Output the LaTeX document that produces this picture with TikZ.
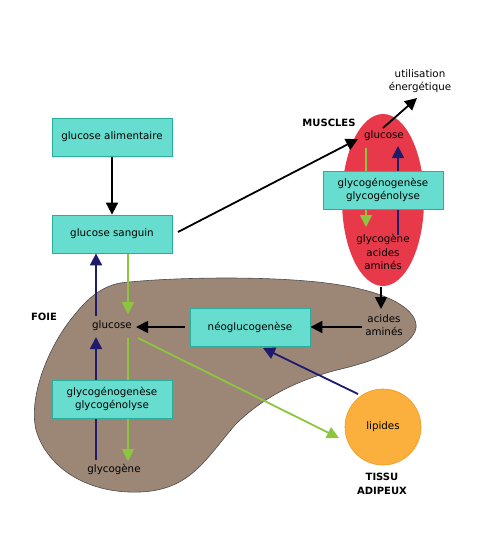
\documentclass[tikz,border=0pt]{standalone}
\usepackage{fontspec}
\setmainfont{DejaVu Sans}
\usetikzlibrary{arrows.meta}
\definecolor{turq}{HTML}{66DDCF}
\definecolor{turqb}{HTML}{2AAE9C}
\definecolor{liver}{HTML}{9C8777}
\definecolor{muscle}{HTML}{E8394A}
\definecolor{fat}{HTML}{FBAF3C}
\definecolor{fatb}{HTML}{F29A1E}
\definecolor{navy}{HTML}{1F1B6B}
\definecolor{lgreen}{HTML}{8CC63F}
\pgfdeclarelayer{shapes}
\pgfdeclarelayer{arrows}
\pgfsetlayers{shapes,arrows,main}
\tikzset{
  box/.style={draw=turqb, fill=turq, line width=0.8pt, minimum width=120pt, minimum height=38pt, inner sep=0pt, align=center, font=\fontsize{10.3}{13.5}\selectfont},
  lbl/.style={inner sep=0pt, align=center, font=\fontsize{10.3}{13.5}\selectfont},
  bold/.style={inner sep=0pt, align=center, font=\fontsize{10}{14}\selectfont\bfseries},
  arr/.style={line width=1.8pt, -{Triangle[length=12pt,width=12pt]}},
  blk/.style={arr, black},
  blu/.style={arr, navy},
  grn/.style={arr, lgreen},
}
\begin{document}
\begin{tikzpicture}[x=1pt,y=-1pt]
\useasboundingbox (0,0) rectangle (500,550);
\begin{pgfonlayer}{shapes}
\fill[white] (0,0) rectangle (500,550);
% liver
\filldraw[fill=liver, draw=black!70, line width=0.6pt]
  (120,283) .. controls (170,277) and (280,275) .. (340,285)
  .. controls (390,293) and (418,310) .. (416,328)
  .. controls (413,345) and (380,360) .. (337,370)
  .. controls (290,382) and (258,402) .. (235,425)
  .. controls (205,460) and (190,490) .. (140,492)
  .. controls (90,494) and (48,470) .. (36,430)
  .. controls (28,395) and (50,345) .. (72,318)
  .. controls (86,300) and (100,287) .. (120,283) -- cycle;
% muscle
\fill[muscle] (383,200) ellipse [x radius=41, y radius=86];
% fat
\filldraw[fill=fat, draw=fatb, line width=0.6pt] (383,427) circle (38);
\end{pgfonlayer}

% nodes
\node[box] (alim) at (112,137) {glucose alimentaire};
\node[box] (sang) at (112,234) {glucose sanguin};
\node[box] (mbox) at (383,190) {glycogénogenèse\\glycogénolyse};
\node[box] (neo) at (250,327) {néoglucogenèse};
\node[box] (fbox) at (112,399) {glycogénogenèse\\glycogénolyse};

\node[lbl] (util) at (420,81) {utilisation\\énergétique};
\node[bold] (musc) at (329,123) {MUSCLES};
\node[lbl] (mglu) at (384,136) {glucose};
\node[lbl] (mgly) at (383,252) {glycogène\\acides\\aminés};
\node[lbl] (aa) at (384,325) {acides\\aminés};
\node[bold] (foie) at (44,317) {FOIE};
\node[lbl] (fglu) at (112,326) {glucose};
\node[lbl] (fgly) at (114,469) {glycogène};
\node[lbl] (lip) at (383,427) {lipides};
\node[bold] (tissu) at (382,484) {TISSU\\ADIPEUX};

% helper coordinates
\coordinate (s1) at (178,232);
\coordinate (m1) at (358,139);
\coordinate (u0) at (383,128);
\coordinate (u1) at (417,98);

\begin{pgfonlayer}{arrows}
\draw[blk] (alim.south) -- (sang.north);
\draw[blk] (s1) -- (m1);
\draw[blk] (u0) -- (u1);
\draw[grn] (366,148) -- (366,227);
\draw[blu] (398,235) -- (398,146);
\draw[blk] (381,287) -- (381,309);
\draw[blk] (362,327) -- (neo.east);
\draw[blk] (185,327) -- (136,327);
\draw[blu] (96,316) -- (sang.south -| 96,0);
\draw[grn] (sang.south -| 128,0) -- (128,314);
\draw[blu] (96,460) -- (96,337);
\draw[grn] (128,338) -- (128,461);
\draw[grn] (138,338) -- (339,438);
\draw[blu] (358,394) -- (263,348);
\end{pgfonlayer}
\end{tikzpicture}
\end{document}
